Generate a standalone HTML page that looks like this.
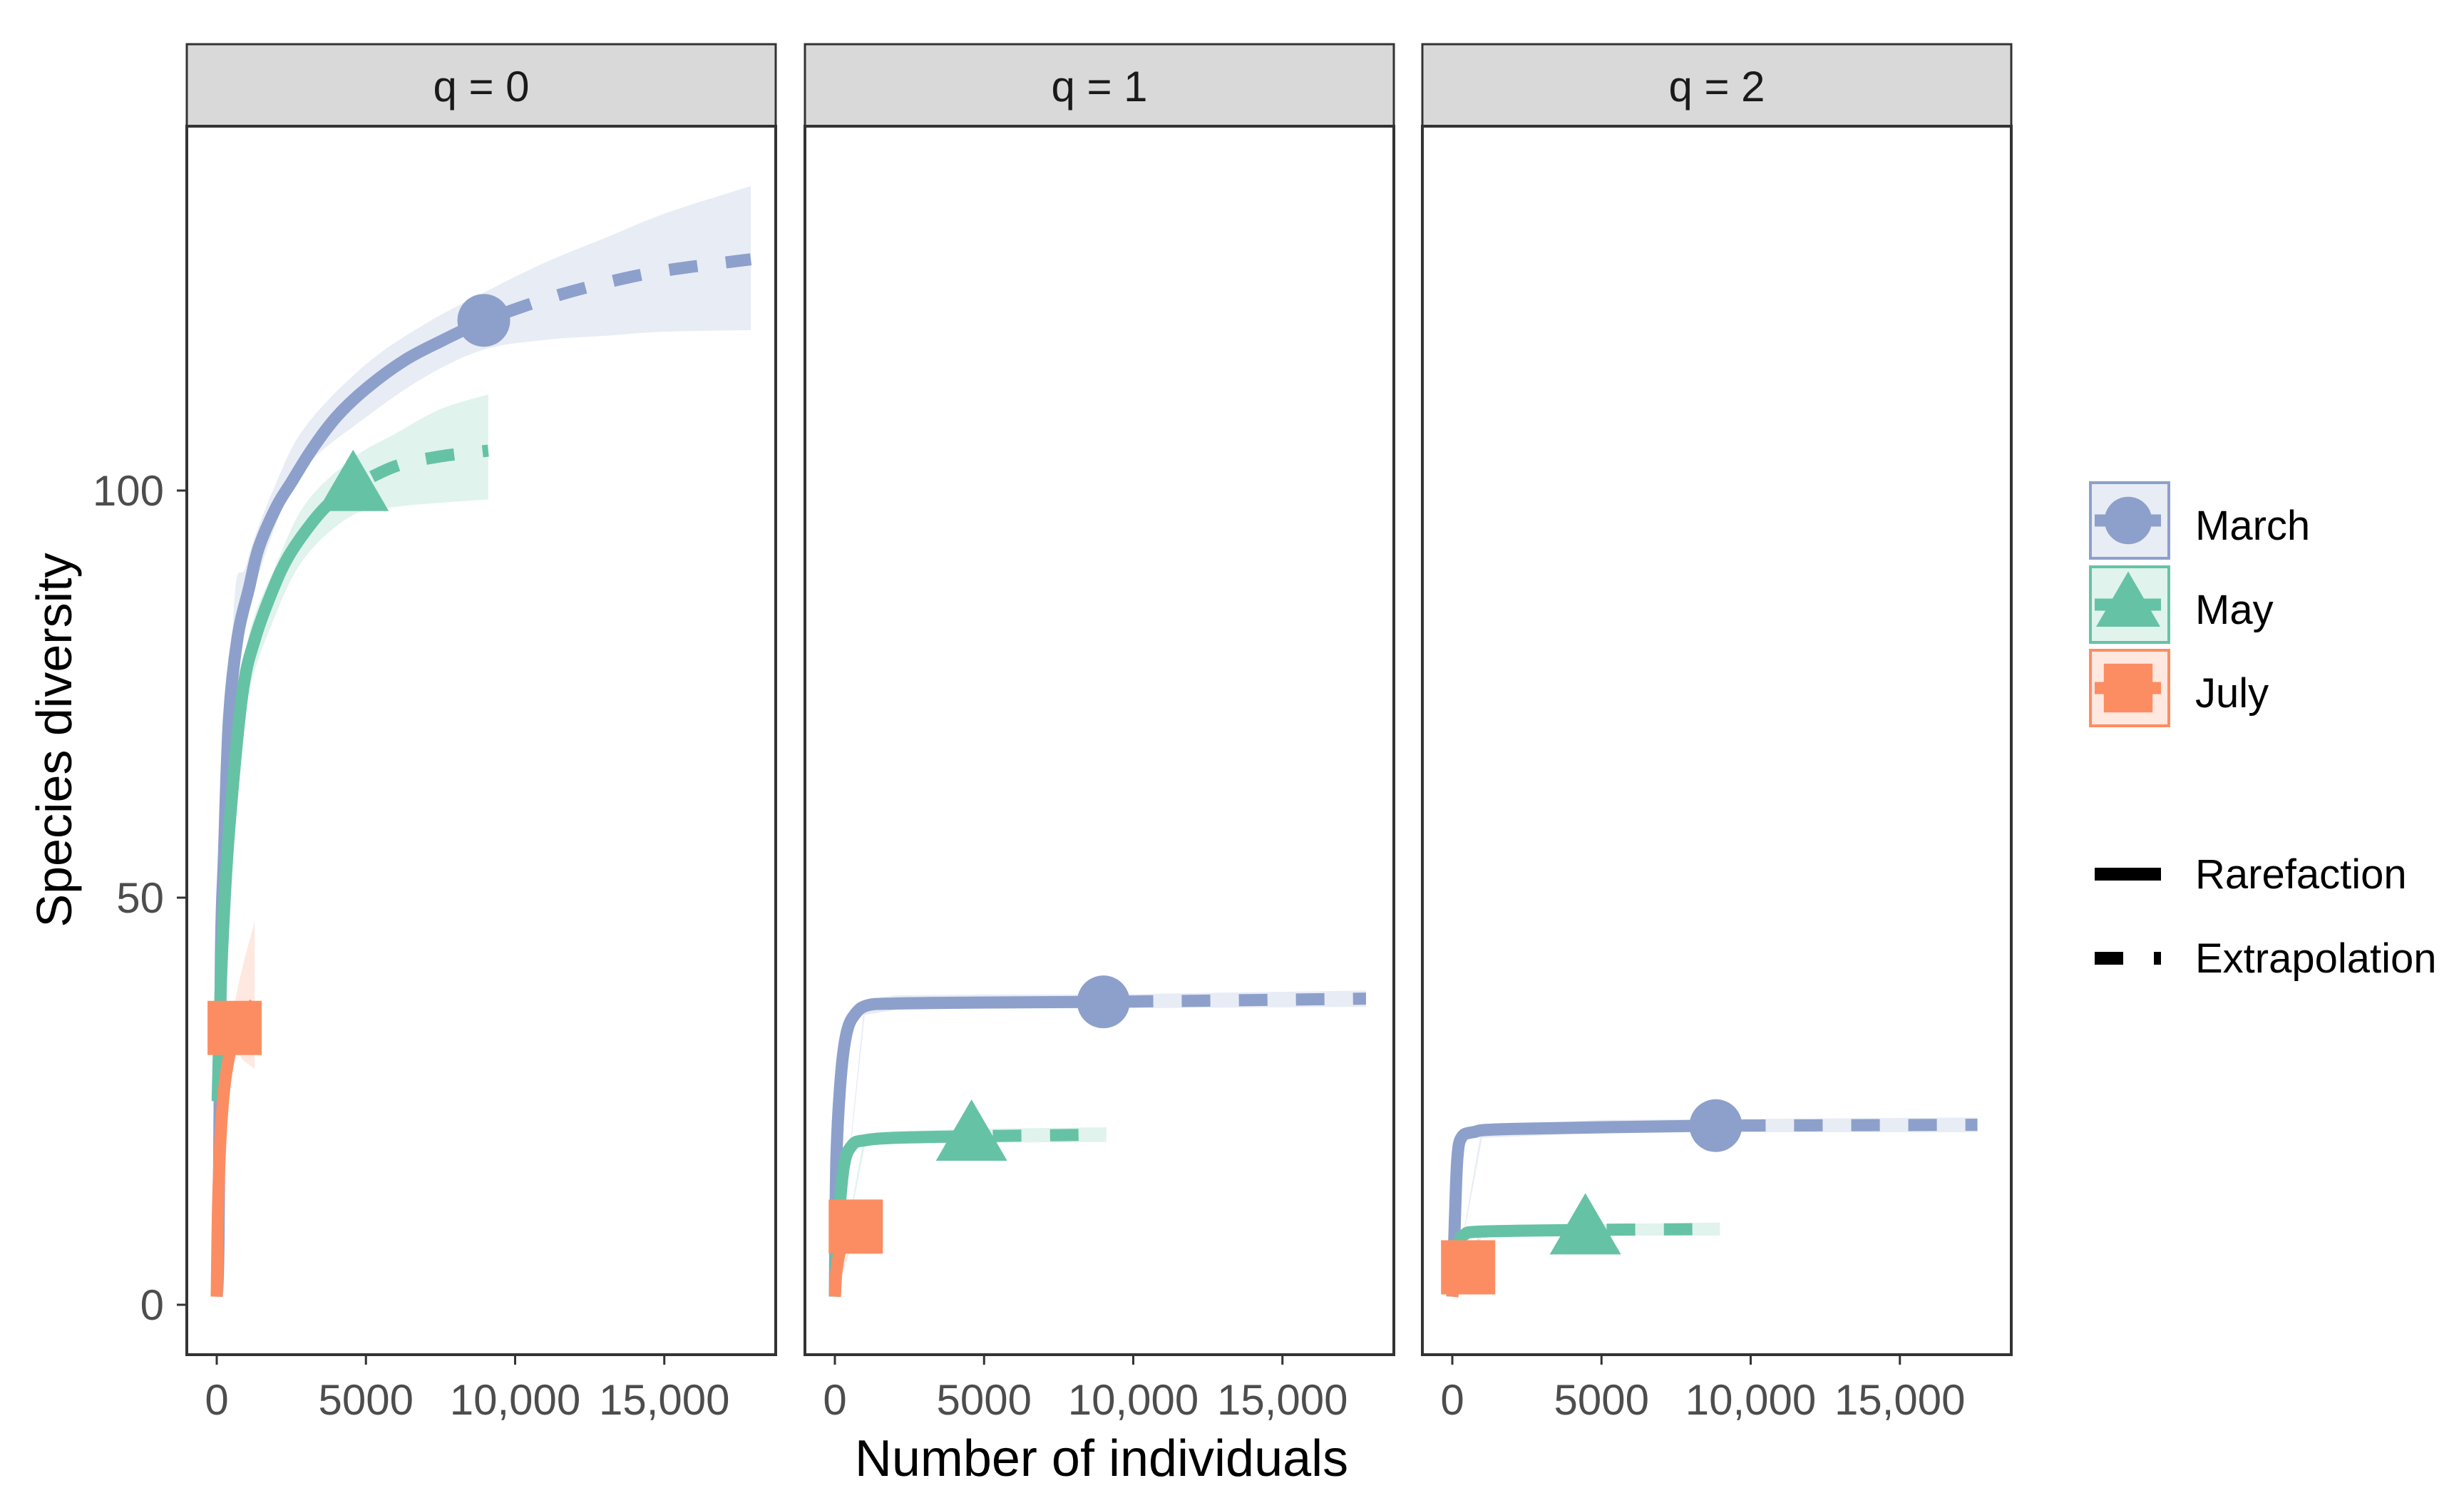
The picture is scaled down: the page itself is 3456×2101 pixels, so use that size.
<!DOCTYPE html>
<html><head><meta charset="utf-8">
<style>
html,body{margin:0;padding:0;background:#fff;}
svg{display:block;}
text{font-family:"Liberation Sans",Arial,sans-serif;}
</style></head>
<body>
<svg id="chart" width="3456" height="2101" viewBox="0 0 3456 2101" xmlns="http://www.w3.org/2000/svg">
  <rect x="0" y="0" width="3456" height="2101" fill="#fff"/>
  <g id="panels"></g>
  <text x="0" y="0" transform="translate(100,1038) rotate(-90)" text-anchor="middle" font-size="70" fill="#000">Species diversity</text>
  <text x="1545" y="2070" text-anchor="middle" font-size="72" fill="#000">Number of individuals</text>
  <g id="legend"></g>
</svg>
<script>
const NS = "http://www.w3.org/2000/svg";
// ---- data ----
const panelTitles = ["q = 0", "q = 1", "q = 2"];
const seriesNames = ["March", "May", "July"];
const xTicks = [0, 5000, 10000, 15000];
const xTickLabels = ["0", "5000", "10,000", "15,000"];
const yTicks = [0, 50, 100];
const yTickLabels = ["0", "50", "100"];

// q = 0
const q0MarchRareX = [0, 60, 140, 240, 410, 700, 1080, 1410, 2000, 2500, 3180, 4000, 5000, 6300, 7600, 8950];
const q0MarchRareY = [1, 8, 43, 55, 72, 82, 88, 93, 98, 101, 105, 109, 112.5, 116, 118.5, 120.9];
const q0MarchExtX = [8950, 11000, 13000, 15000, 17900];
const q0MarchExtY = [120.9, 123.5, 125.5, 127, 128.4];
const q0MarchBandX = [0, 500, 1000, 2000, 3000, 5000, 7000, 8950, 11000, 13000, 15000, 17900];
const q0MarchBandLo = [1, 70, 84, 96, 103, 109, 114, 117.3, 118.5, 119, 119.5, 119.7];
const q0MarchBandHi = [1, 80, 91, 101, 108, 115.5, 120.5, 124.3, 128, 131, 134, 137.4];

const q0MayRareX = [30, 100, 200, 410, 860, 1300, 1900, 2420, 3180, 3800, 4570];
const q0MayRareY = [25, 35, 45, 58, 75, 82, 88, 92, 96, 98.5, 100.5];
const q0MayExtX = [4570, 6000, 7500, 9100];
const q0MayExtY = [100.5, 103, 104.2, 104.9];
const q0MayBandX = [0, 500, 1000, 2000, 3000, 4570, 6000, 7500, 9100];
const q0MayBandLo = [1, 58, 74, 85, 92, 97, 98, 98.5, 98.9];
const q0MayBandHi = [1, 64, 81, 91, 98.5, 104, 107, 110, 111.8];

const q0JulyRareX = [0, 50, 150, 300, 600];
const q0JulyRareY = [1, 13, 22, 28, 34];
const q0JulyExtX = [600, 900, 1270];
const q0JulyExtY = [34, 35.5, 37];
const q0JulyBandX = [0, 300, 600, 900, 1270];
const q0JulyBandLo = [1, 26, 31, 30, 29];
const q0JulyBandHi = [1, 30, 37, 42, 47];

// q = 1
const q1MarchRareX = [0, 50, 200, 400, 700, 1120, 2000, 4000, 9000];
const q1MarchRareY = [1, 17.8, 28, 33.5, 35.8, 36.8, 37, 37.1, 37.2];
const q1MarchExtX = [9000, 17800];
const q1MarchExtY = [37.2, 37.6];
const q1MarchBandX = [0, 1000, 2000, 5000, 9000, 17800];
const q1MarchBandLo = [1, 35.6, 36.2, 36.4, 36.4, 36.6];
const q1MarchBandHi = [1, 37.4, 38, 38.1, 38.1, 38.6];

const q1MayRareX = [0, 100, 300, 580, 1000, 2000, 4580];
const q1MayRareY = [1, 9, 17, 19.6, 20.2, 20.5, 20.7];
const q1MayExtX = [4580, 9100];
const q1MayExtY = [20.7, 20.9];
const q1MayBandX = [0, 1000, 2000, 4580, 9100];
const q1MayBandLo = [1, 19.5, 19.8, 19.9, 20];
const q1MayBandHi = [1, 21, 21.3, 21.6, 21.8];

const q1JulyRareX = [0, 50, 200, 400, 700];
const q1JulyRareY = [1, 4, 7, 8.5, 9.6];
const q1JulyExtX = [700, 1400];
const q1JulyExtY = [9.6, 10.2];
const q1JulyBandX = [0, 700, 1400];
const q1JulyBandLo = [1, 8.8, 9.2];
const q1JulyBandHi = [1, 10.4, 11.2];

// q = 2
const q2MarchRareX = [0, 50, 100, 170, 300, 700, 2000, 8830];
const q2MarchRareY = [1, 6, 12, 18, 20.5, 21.2, 21.6, 22];
const q2MarchExtX = [8830, 17600];
const q2MarchExtY = [22, 22.1];
const q2MarchBandX = [0, 1000, 5000, 8830, 17600];
const q2MarchBandLo = [1, 20.5, 21.1, 21.2, 21.2];
const q2MarchBandHi = [1, 22, 22.7, 22.8, 23];

const q2MayRareX = [0, 100, 200, 400, 1000, 4460];
const q2MayRareY = [1, 5, 7.5, 8.6, 9, 9.2];
const q2MayExtX = [4460, 8970];
const q2MayExtY = [9.2, 9.3];
const q2MayBandX = [0, 1000, 4460, 8970];
const q2MayBandLo = [1, 8.4, 8.5, 8.5];
const q2MayBandHi = [1, 9.7, 9.9, 10.1];

const q2JulyRareX = [0, 50, 200, 530];
const q2JulyRareY = [1, 2.5, 4, 4.6];
const q2JulyExtX = [530, 1100];
const q2JulyExtY = [4.6, 4.8];
const q2JulyBandX = [0, 530, 1100];
const q2JulyBandLo = [1, 4, 4];
const q2JulyBandHi = [1, 5.2, 5.6];

// ---- layout ----
const panelLefts = [262, 1129, 1995];
const panelW = 826, stripTop = 62, stripBot = 177, panelBot = 1900;
const colors = {March: "#8DA0CB", May: "#66C2A5", July: "#FC8D62"};
const bands = {March: "#E8ECF5", May: "#E0F3ED", July: "#FEE8E0"};
const LW = 17;

function xScale(p, v) { return panelLefts[p] + 42 + v * 0.04185; }
function yScale(v) { return 1830 - v * 11.42; }

const allData = [
  {March: [q0MarchRareX, q0MarchRareY, q0MarchExtX, q0MarchExtY, q0MarchBandX, q0MarchBandLo, q0MarchBandHi],
   May: [q0MayRareX, q0MayRareY, q0MayExtX, q0MayExtY, q0MayBandX, q0MayBandLo, q0MayBandHi],
   July: [q0JulyRareX, q0JulyRareY, q0JulyExtX, q0JulyExtY, q0JulyBandX, q0JulyBandLo, q0JulyBandHi]},
  {March: [q1MarchRareX, q1MarchRareY, q1MarchExtX, q1MarchExtY, q1MarchBandX, q1MarchBandLo, q1MarchBandHi],
   May: [q1MayRareX, q1MayRareY, q1MayExtX, q1MayExtY, q1MayBandX, q1MayBandLo, q1MayBandHi],
   July: [q1JulyRareX, q1JulyRareY, q1JulyExtX, q1JulyExtY, q1JulyBandX, q1JulyBandLo, q1JulyBandHi]},
  {March: [q2MarchRareX, q2MarchRareY, q2MarchExtX, q2MarchExtY, q2MarchBandX, q2MarchBandLo, q2MarchBandHi],
   May: [q2MayRareX, q2MayRareY, q2MayExtX, q2MayExtY, q2MayBandX, q2MayBandLo, q2MayBandHi],
   July: [q2JulyRareX, q2JulyRareY, q2JulyExtX, q2JulyExtY, q2JulyBandX, q2JulyBandLo, q2JulyBandHi]}
];

function mk(tag, attrs, parent) {
  const e = document.createElementNS(NS, tag);
  for (const k in attrs) e.setAttribute(k, attrs[k]);
  parent.appendChild(e);
  return e;
}
function smooth(pts, move) {
  let d = (move ? "M" : "L") + pts[0][0] + "," + pts[0][1];
  for (let i = 0; i < pts.length - 1; i++) {
    const p0 = pts[Math.max(0, i - 1)], p1 = pts[i], p2 = pts[i + 1], p3 = pts[Math.min(pts.length - 1, i + 2)];
    const c1x = p1[0] + (p2[0] - p0[0]) / 6, c1y = p1[1] + (p2[1] - p0[1]) / 6;
    const c2x = p2[0] - (p3[0] - p1[0]) / 6, c2y = p2[1] - (p3[1] - p1[1]) / 6;
    d += ` C${c1x},${c1y} ${c2x},${c2y} ${p2[0]},${p2[1]}`;
  }
  return d;
}
function linear(pts, move) {
  return pts.map((q, i) => (i === 0 && move ? "M" : "L") + q[0] + "," + q[1]).join(" ");
}
function marker(shape, cx, cy, color, parent, s) {
  let e;
  if (shape === "March") {
    e = mk("circle", {cx: cx, cy: cy, r: 37 * s, fill: color}, parent);
  } else if (shape === "May") {
    const w = 50 * s, h = 86 * s;
    e = mk("polygon", {points: `${cx},${cy - h * 0.6} ${cx - w},${cy + h * 0.4} ${cx + w},${cy + h * 0.4}`, fill: color}, parent);
  } else {
    const a = 38 * s;
    e = mk("rect", {x: cx - a, y: cy - a, width: 2 * a, height: 2 * a, fill: color}, parent);
  }
  return e;
}

const panelsG = document.getElementById("panels");
for (let p = 0; p < 3; p++) {
  const L = panelLefts[p];
  const g = mk("g", {}, panelsG);
  
  
  const strip = mk("rect", {x: L, y: stripTop, width: panelW, height: stripBot - stripTop, fill: "#D9D9D9", stroke: "#333", "stroke-width": 3}, g);
  
  
  const st = mk("text", {x: L + panelW / 2, y: 142, "text-anchor": "middle", "font-size": 60, fill: "#1A1A1A"}, g);
  st.textContent = panelTitles[p];
  
  
  const clip = mk("clipPath", {id: "clip" + p}, g);
  mk("rect", {x: L, y: stripBot, width: panelW, height: panelBot - stripBot}, clip);
  const plot = mk("g", {"clip-path": `url(#clip${p})`}, g);
  const d = allData[p];
  seriesNames.forEach(n => {
    const [rx, ry, ex, ey, bx, lo, hi] = d[n];
    const top = bx.map((v, i) => [xScale(p, v), yScale(hi[i])]);
    const bot = bx.map((v, i) => [xScale(p, v), yScale(lo[i])]).reverse();
    const f = p === 0 ? smooth : linear;
    const b = mk("path", {d: f(top, true) + " " + f(bot, false) + " Z", fill: bands[n]}, plot);
    
    
  });
  seriesNames.forEach(n => {
    const [rx, ry, ex, ey] = d[n];
    const rl = mk("path", {d: smooth(rx.map((v, i) => [xScale(p, v), yScale(ry[i])]), true), fill: "none", stroke: colors[n], "stroke-width": LW, "stroke-linejoin": "round"}, plot);
    
    
    const el = mk("path", {d: smooth(ex.map((v, i) => [xScale(p, v), yScale(ey[i])]), true), fill: "none", stroke: colors[n], "stroke-width": LW, "stroke-dasharray": "40 40", "stroke-dashoffset": "-30"}, plot);
    
    
    const k = rx.length - 1;
    const m = marker(n, xScale(p, rx[k]), yScale(ry[k]), colors[n], plot, 1);
    
    
  });
  const border = mk("rect", {x: L, y: stripBot, width: panelW, height: panelBot - stripBot, fill: "none", stroke: "#333", "stroke-width": 4}, g);
  
  
  xTicks.forEach((t, i) => {
    const x = xScale(p, t);
    mk("line", {x1: x, x2: x, y1: panelBot, y2: panelBot + 14, stroke: "#333", "stroke-width": 3}, g);
    const tl = mk("text", {x: x, y: 1984, "text-anchor": "middle", "font-size": 60, fill: "#4D4D4D"}, g);
    tl.textContent = xTickLabels[i];
    
    
  });
  if (p === 0) {
    yTicks.forEach((t, i) => {
      const y = yScale(t);
      mk("line", {x1: L - 14, x2: L, y1: y, y2: y, stroke: "#333", "stroke-width": 3}, g);
      const tl = mk("text", {x: 230, y: y + 21, "text-anchor": "end", "font-size": 60, fill: "#4D4D4D"}, g);
      tl.textContent = yTickLabels[i];
      
      
    });
  }
}

// legend
const lg = document.getElementById("legend");
const boxTops = [675, 793, 910];
seriesNames.forEach((n, i) => {
  const t = boxTops[i];
  const g = mk("g", {}, lg);
  
  
  mk("rect", {x: 2932, y: t + 2, width: 110, height: 106, fill: bands[n], stroke: colors[n], "stroke-width": 4}, g);
  mk("line", {x1: 2938, x2: 3031, y1: t + 55, y2: t + 55, stroke: colors[n], "stroke-width": LW}, g);
  marker(n, 2985, t + 55, colors[n], g, 0.9);
  const tx = mk("text", {x: 3079, y: t + 82, "font-size": 58, fill: "#000"}, g);
  tx.textContent = n;
});
const lt = [["Rarefaction", 1226, null], ["Extrapolation", 1344, "40 40"]];
lt.forEach(([lab, y, dash]) => {
  const g = mk("g", {}, lg);
  
  
  const a = {x1: 2938, x2: 3031, y1: y, y2: y, stroke: "#000", "stroke-width": 18};
  if (dash) a["stroke-dasharray"] = "40 43 20 100";
  mk("line", a, g);
  const tx = mk("text", {x: 3079, y: y + 20, "font-size": 58, fill: "#000"}, g);
  tx.textContent = lab;
});
</script>
</body></html>
